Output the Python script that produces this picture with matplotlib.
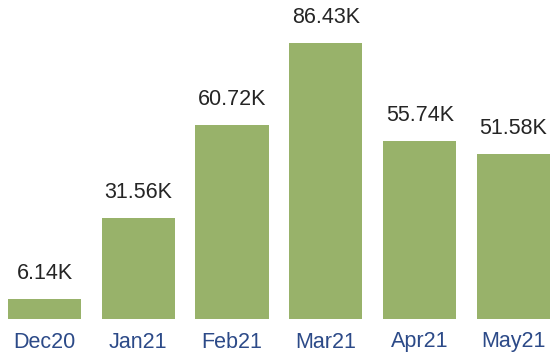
import matplotlib
matplotlib.use("Agg")
import matplotlib.pyplot as plt

categories = ["Dec20", "Jan21", "Feb21", "Mar21", "Apr21", "May21"]
values = [6.14, 31.56, 60.72, 86.43, 55.74, 51.58]
labels = ["6.14K", "31.56K", "60.72K", "86.43K", "55.74K", "51.58K"]

plt.rcParams['font.family'] = ['Liberation Sans', 'DejaVu Sans']
fig = plt.figure(figsize=(5.51, 3.58), dpi=100)
ax = fig.add_axes([0, 39/358, 1, 319/358])
x = list(range(len(categories)))
bars = ax.bar(x, values, width=0.78, color="#98b26a")
for b, lab in zip(bars, labels):
    ax.annotate(lab, (b.get_x() + b.get_width()/2, b.get_height()),
                xytext=(0, 11), textcoords="offset points",
                ha="center", va="bottom", fontsize=15.5, color="#252525")
ax.set_xlim(-0.474, 5.40)
ax.set_ylim(0, 100)
ax.set_xticks(x)
ax.set_xticklabels(categories, fontsize=15.5, color="#2c4a88")
ax.tick_params(axis="x", length=0, pad=9)
ax.set_yticks([])
for s in ax.spines.values():
    s.set_visible(False)
fig.savefig("out.png", dpi=100)
